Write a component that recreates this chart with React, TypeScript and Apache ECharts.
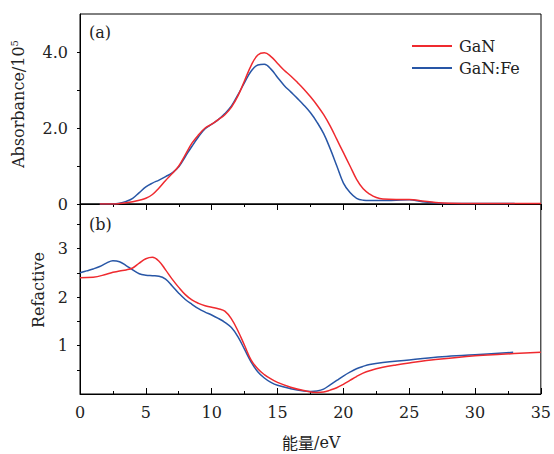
import React, { useEffect, useRef } from "react";
import * as echarts from "echarts";

// Panel (a): absorbance (×10^5) vs energy (eV)
const energyA = [1.5, 2, 2.5, 3, 3.5, 4, 4.5, 5, 5.5, 6, 6.5, 7, 7.5, 8, 8.5, 9, 9.5, 10, 10.5, 11, 11.5, 12, 12.5, 13, 13.5, 14, 14.5, 15, 15.5, 16, 16.5, 17, 17.5, 18, 18.5, 19, 19.5, 20, 20.5, 21, 21.5, 22, 22.5, 23, 24, 25, 26, 27, 28, 30, 33, 35];
const absGaN = [0, 0, 0, 0.01, 0.03, 0.06, 0.1, 0.15, 0.25, 0.42, 0.62, 0.8, 1.0, 1.3, 1.6, 1.82, 2.0, 2.1, 2.22, 2.35, 2.55, 2.85, 3.25, 3.65, 3.92, 3.98, 3.88, 3.7, 3.52, 3.37, 3.2, 3.02, 2.82, 2.6, 2.35, 2.05, 1.7, 1.35, 1.0, 0.65, 0.4, 0.26, 0.17, 0.13, 0.12, 0.12, 0.08, 0.04, 0.02, 0.01, 0.01, 0.01];
const absGaNFe = [0, 0, 0, 0.02, 0.07, 0.15, 0.3, 0.45, 0.55, 0.63, 0.72, 0.82, 0.98, 1.25, 1.52, 1.77, 1.98, 2.1, 2.22, 2.38, 2.58, 2.88, 3.2, 3.5, 3.66, 3.68, 3.55, 3.33, 3.12, 2.95, 2.78, 2.6, 2.4, 2.15, 1.85, 1.45, 1.0, 0.55, 0.3, 0.15, 0.1, 0.09, 0.09, 0.09, 0.1, 0.11, 0.06, 0.03, 0.01, 0.01, 0.01];

// Panel (b): refractive index vs energy (eV)
const energyGaN = [0, 1, 2, 2.5, 3, 3.5, 4, 4.5, 5, 5.5, 6, 6.5, 7, 7.5, 8, 8.5, 9, 9.5, 10, 10.5, 11, 11.5, 12, 12.5, 13, 13.5, 14, 14.5, 15, 16, 17, 18, 18.5, 19, 19.5, 20, 20.5, 21, 21.5, 22, 23, 24, 25, 27, 30, 32, 35];
const refGaN = [2.4, 2.41, 2.47, 2.51, 2.54, 2.56, 2.6, 2.7, 2.79, 2.82, 2.74, 2.56, 2.37, 2.2, 2.05, 1.94, 1.87, 1.82, 1.79, 1.76, 1.71, 1.55, 1.3, 1.0, 0.7, 0.52, 0.4, 0.31, 0.24, 0.14, 0.07, 0.03, 0.04, 0.08, 0.13, 0.2, 0.28, 0.36, 0.43, 0.48, 0.55, 0.6, 0.64, 0.71, 0.79, 0.82, 0.86];
const energyGaNFe = [0, 0.5, 1, 1.5, 2, 2.5, 3, 3.5, 4, 4.5, 5, 5.5, 6, 6.5, 7, 7.5, 8, 8.5, 9, 9.5, 10, 10.5, 11, 11.5, 12, 12.5, 13, 13.5, 14, 14.5, 15, 16, 17, 17.5, 18, 18.5, 19, 19.5, 20, 20.5, 21, 21.5, 22, 23, 25, 27.5, 30, 32.9];
const refGaNFe = [2.5, 2.54, 2.58, 2.63, 2.7, 2.75, 2.73, 2.65, 2.56, 2.48, 2.45, 2.44, 2.43, 2.37, 2.23, 2.08, 1.95, 1.85, 1.76, 1.69, 1.63, 1.56, 1.48, 1.37, 1.18, 0.92, 0.66, 0.46, 0.33, 0.24, 0.18, 0.11, 0.06, 0.05, 0.06, 0.1, 0.19, 0.28, 0.37, 0.45, 0.52, 0.57, 0.61, 0.65, 0.7, 0.77, 0.81, 0.86];

const seriesNames = ["GaN", "GaN:Fe"];
const xTickLabels = [0, 5, 10, 15, 20, 25, 30, 35];
const absTickValues = [0, 1, 2, 3, 4];
const absTickLabels = [0, 2, 4];
const refTickValues = [0.5, 1, 1.5, 2, 2.5, 3, 3.5];
const refTickLabels = [1, 2, 3];

const RED = "#ef2a2f";
const BLUE = "#2856a6";
const FONT = "DejaVu Serif";
const TXT = "#222";

const zip = (xs: number[], ys: number[]) => ys.map((y, i) => [xs[i], y]);

export default function App() {
  const ref = useRef<HTMLDivElement>(null);
  useEffect(() => {
    if (!ref.current) return;
    const chart = echarts.init(ref.current, null, { renderer: "svg" });
    const axisLine = { show: true, lineStyle: { color: "#000", width: 1 } };
    const label = { fontFamily: FONT, fontSize: 16, color: TXT };
    chart.setOption({
      animation: false,
      backgroundColor: "#fff",
      grid: [
        { left: 80, top: 14, width: 461, height: 190, show: true, borderColor: "#000", borderWidth: 1, backgroundColor: "transparent" },
        { left: 80, top: 204, width: 461, height: 190, show: true, borderColor: "#000", borderWidth: 1, backgroundColor: "transparent" },
      ],
      legend: {
        data: seriesNames,
        orient: "vertical",
        left: 407,
        top: 33,
        itemWidth: 40,
        itemHeight: 2,
        itemGap: 6,
        icon: "rect",
        textStyle: { fontFamily: FONT, fontSize: 16, color: TXT, padding: [0, 0, 0, 2] },
      },
      xAxis: [
        {
          type: "value", gridIndex: 0, min: 0, max: 35, interval: 5, position: "bottom",
          axisLine, axisLabel: { show: false }, splitLine: { show: false },
          axisTick: { show: true, inside: false, length: 6, lineStyle: { color: "#000" } },
          minorTick: { show: true, splitNumber: 2, length: 3, lineStyle: { color: "#000" } },
        },
        {
          type: "value", gridIndex: 1, min: 0, max: 35, interval: 5, position: "bottom",
          axisLine, splitLine: { show: false },
          axisTick: { show: true, inside: true, length: 6, lineStyle: { color: "#000" } },
          minorTick: { show: true, splitNumber: 2, length: 3, lineStyle: { color: "#000" } },
          axisLabel: {
            ...label, margin: 10,
            customValues: xTickLabels,
            formatter: (v: number) => String(v),
          },
        },
      ],
      yAxis: [
        {
          type: "value", gridIndex: 0, min: 0, max: 5,
          axisLine, splitLine: { show: false },
          axisTick: { show: true, inside: false, length: 3, customValues: absTickValues, lineStyle: { color: "#000" } },
          axisLabel: {
            ...label, margin: 12,
            customValues: absTickLabels,
            formatter: (v: number) => (v === 0 ? "0" : v.toFixed(1)),
          },
        },
        {
          type: "value", gridIndex: 1, min: 0, max: 3.92,
          axisLine, splitLine: { show: false },
          axisTick: { show: true, inside: false, length: 3, customValues: refTickValues, lineStyle: { color: "#000" } },
          axisLabel: {
            ...label, margin: 12,
            customValues: refTickLabels,
            formatter: (v: number) => String(v),
          },
        },
      ],
      series: [
        { name: seriesNames[0], type: "line", xAxisIndex: 0, yAxisIndex: 0, data: zip(energyA, absGaN), smooth: 0.4, symbol: "none", lineStyle: { color: RED, width: 1.5 }, itemStyle: { color: RED }, z: 3 },
        { name: seriesNames[1], type: "line", xAxisIndex: 0, yAxisIndex: 0, data: zip(energyA, absGaNFe), smooth: 0.4, symbol: "none", lineStyle: { color: BLUE, width: 1.5 }, itemStyle: { color: BLUE }, z: 2 },
        { name: seriesNames[0], type: "line", xAxisIndex: 1, yAxisIndex: 1, data: zip(energyGaN, refGaN), smooth: 0.4, symbol: "none", lineStyle: { color: RED, width: 1.5 }, itemStyle: { color: RED }, z: 3 },
        { name: seriesNames[1], type: "line", xAxisIndex: 1, yAxisIndex: 1, data: zip(energyGaNFe, refGaNFe), smooth: 0.4, symbol: "none", lineStyle: { color: BLUE, width: 1.5 }, itemStyle: { color: BLUE }, z: 2 },
      ],
      graphic: [
        { type: "text", left: 89, top: 24, style: { text: "(a)", fontFamily: FONT, fontSize: 16, fill: TXT } },
        { type: "text", left: 89, top: 216, style: { text: "(b)", fontFamily: FONT, fontSize: 16, fill: TXT } },
        {
          type: "text", x: 18, y: 104, rotation: Math.PI / 2,
          style: {
            text: "Absorbance/10{sup|5}", fontFamily: FONT, fontSize: 16, fill: TXT,
            align: "center", verticalAlign: "middle",
            rich: { sup: { fontFamily: FONT, fontSize: 10, fill: TXT, verticalAlign: "top", padding: [0, 0, 8, 0] } },
          },
        },
        {
          type: "text", x: 38, y: 290, rotation: Math.PI / 2,
          style: { text: "Refactive", fontFamily: FONT, fontSize: 16, fill: TXT, align: "center", verticalAlign: "middle" },
        },
        {
          type: "text", left: 282, top: 434,
          style: {
            text: "{cjk|能量}/eV", fontFamily: FONT, fontSize: 16, fill: TXT,
            rich: { cjk: { fontFamily: "Noto Sans CJK SC", fontSize: 16, fill: TXT } },
          },
        },
      ],
    });
    return () => chart.dispose();
  }, []);
  return <div ref={ref} style={{ position: "fixed", left: 0, top: 0, width: 554, height: 454 }} />;
}
